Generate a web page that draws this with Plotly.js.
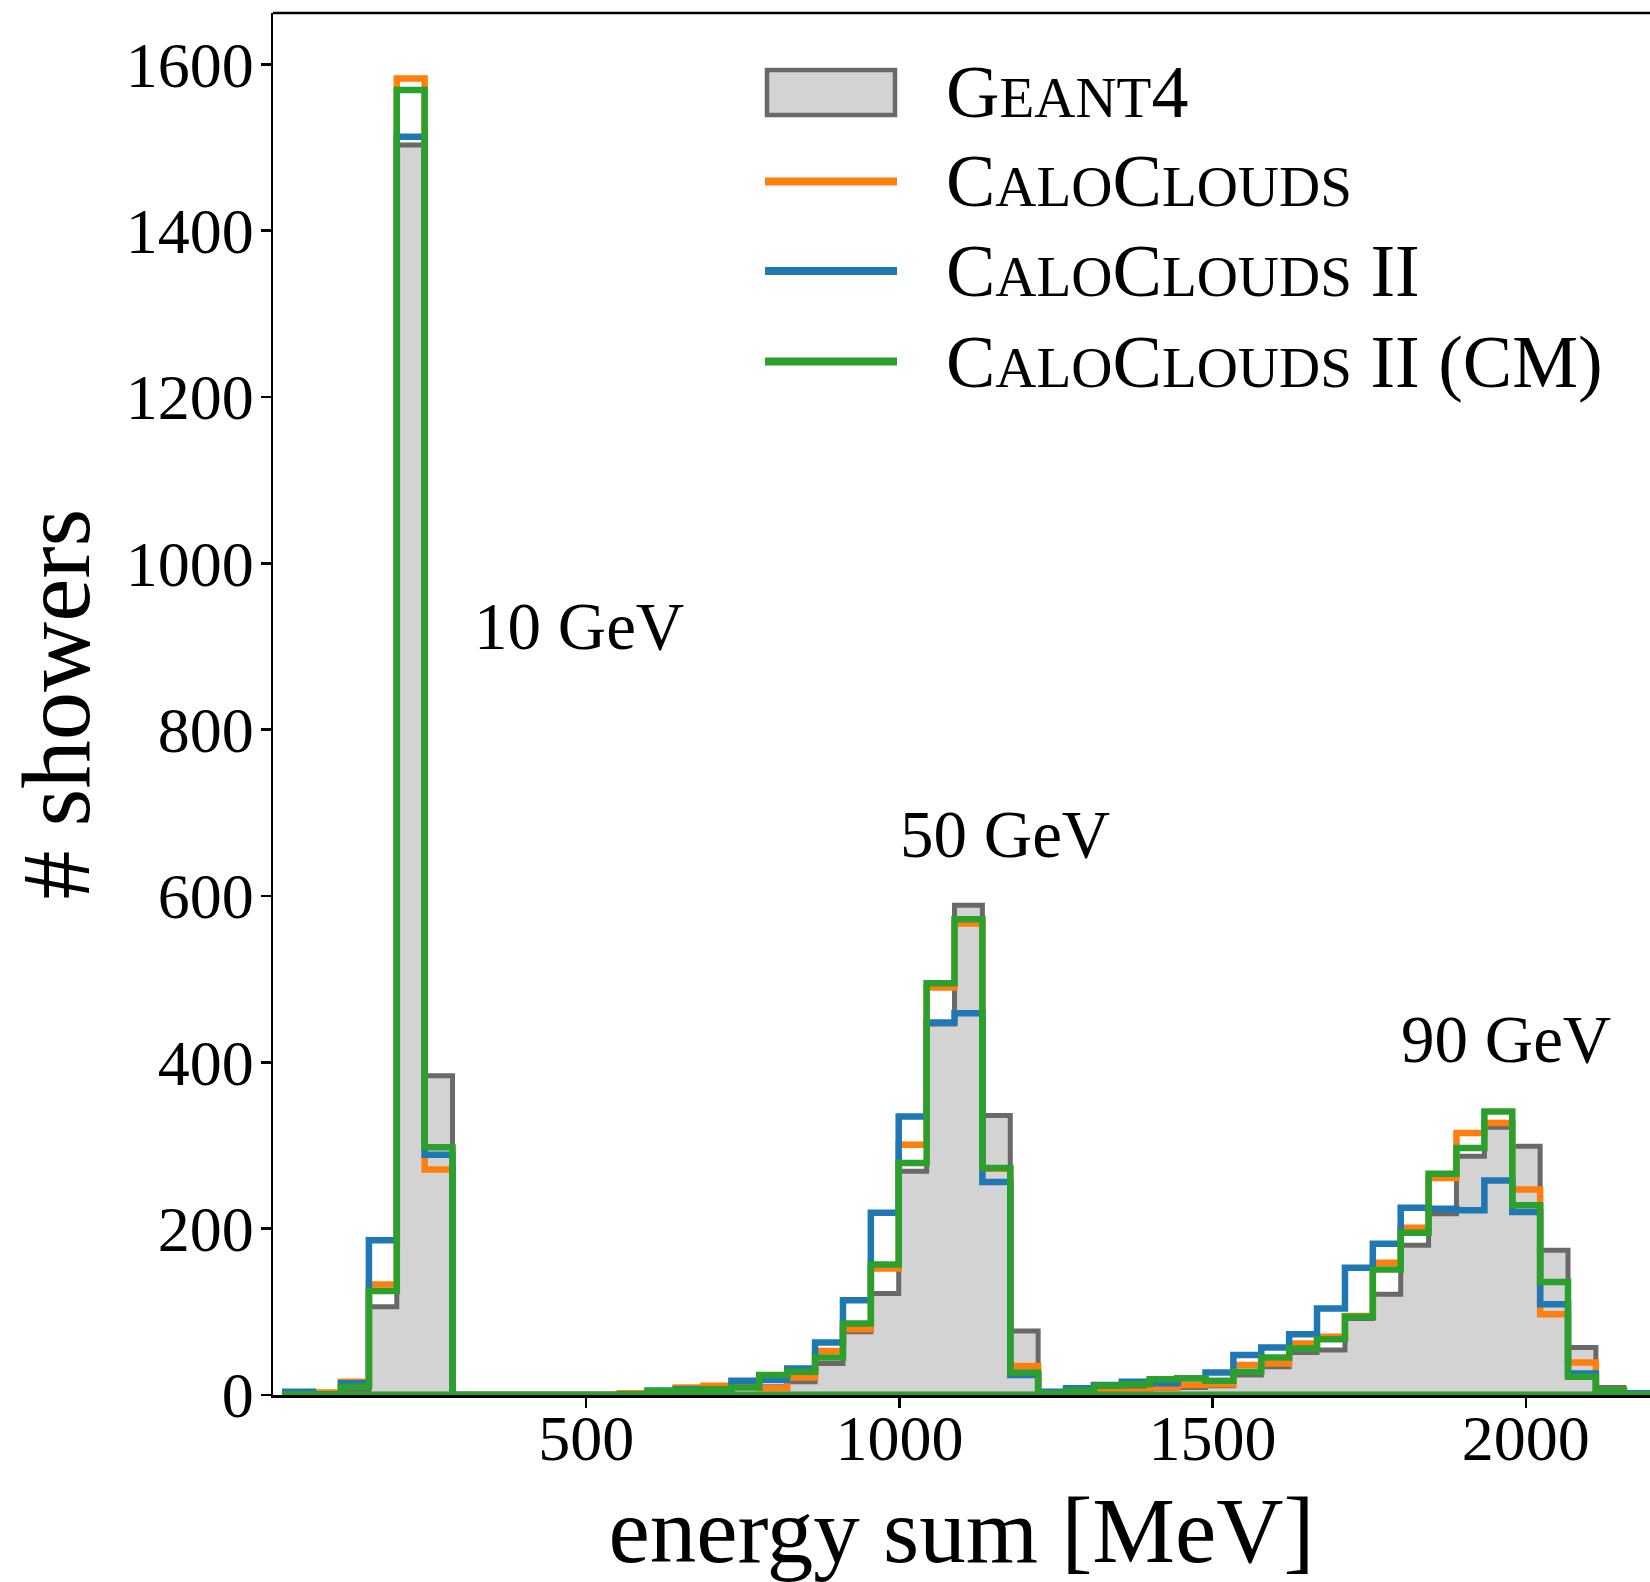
<!DOCTYPE html>
<html>
<head>
<meta charset="utf-8">
<script src="https://cdn.plot.ly/plotly-3.0.1.min.js"></script>
<style>
  html, body { margin: 0; padding: 0; background: #ffffff; }
  #chart { width: 1650px; height: 1582px; }
</style>
</head>
<body>
<div id="chart"></div>
<script>
// ---------------- data ----------------
// histogram bin edges [MeV]
const binEdges = [19.5, 64.0, 108.5, 153.1, 197.6, 242.1, 286.6, 331.1, 375.7, 420.2,
  464.7, 509.2, 553.7, 598.3, 642.8, 687.3, 731.8, 776.3, 820.9, 865.4,
  909.9, 954.4, 998.9, 1043.5, 1088.0, 1132.5, 1177.0, 1221.5, 1266.1, 1310.6,
  1355.1, 1399.6, 1444.1, 1488.7, 1533.2, 1577.7, 1622.2, 1666.7, 1711.3, 1755.8,
  1800.3, 1844.8, 1889.3, 1933.9, 1978.4, 2022.9, 2067.4, 2111.9, 2156.5, 2201.0];

// counts per bin (# showers)
const geant4Counts = [1, 1, 6, 106, 1503, 384, 0, 0, 0, 0,
  0, 0, 1, 2, 3, 4, 12, 10, 16, 38,
  76, 122, 269, 446, 589, 336, 77, 3, 7, 8,
  9, 8, 9, 11, 24, 34, 51, 54, 92, 121,
  180, 218, 287, 322, 299, 174, 57, 9, 1];

const caloCloudsCounts = [1, 3, 16, 133, 1583, 271, 0, 0, 0, 0,
  0, 0, 2, 3, 9, 11, 10, 8, 21, 53,
  79, 152, 301, 490, 567, 272, 35, 2, 3, 4,
  4, 9, 12, 13, 36, 38, 62, 70, 95, 159,
  201, 261, 315, 327, 247, 97, 39, 6, 1];

const caloClouds2Counts = [4, 1, 14, 186, 1513, 289, 0, 0, 0, 0,
  0, 0, 1, 5, 7, 6, 17, 18, 32, 63,
  114, 219, 335, 448, 459, 256, 24, 4, 8, 12,
  16, 14, 20, 27, 48, 57, 73, 104, 153, 182,
  225, 224, 222, 258, 220, 109, 26, 5, 2];

const caloClouds2CMCounts = [1, 1, 10, 125, 1569, 298, 0, 0, 0, 0,
  0, 0, 1, 5, 6, 7, 9, 24, 28, 45,
  86, 157, 279, 495, 572, 273, 27, 2, 5, 11,
  13, 19, 20, 17, 28, 45, 56, 67, 94, 151,
  195, 266, 297, 341, 228, 136, 22, 6, 1];

const seriesNames = ['Geant4', 'CaloClouds', 'CaloClouds II', 'CaloClouds II (CM)'];
const xTickVals = [500, 1000, 1500, 2000];
const yTickVals = [0, 200, 400, 600, 800, 1000, 1200, 1400, 1600];
const energyLabels = ['10 GeV', '50 GeV', '90 GeV'];

// ---------------- styling ----------------
const FONT = 'Liberation Serif, Times New Roman, serif';
const colors = {
  fill: '#d3d3d3', edge: '#696969',
  orange: '#ff7f0e', blue: '#1f77b4', green: '#2ca02c'
};

// figure geometry (pixels)
const FIG_W = 1650, FIG_H = 1582;
const M = { l: 273, r: 0, t: 13, b: 187 };
const PW = FIG_W - M.l - M.r, PH = FIG_H - M.t - M.b;
const xp = px => (px - M.l) / PW;
const yp = py => 1 - (py - M.t) / PH;

function stepXY(counts) {
  const x = [binEdges[0]].concat(binEdges);
  const y = [0].concat(counts).concat([0]);
  return { x, y };
}

const traces = [];
// Geant4 (stepfilled)
const g = stepXY(geant4Counts);
traces.push({
  type: 'scatter', mode: 'lines', name: seriesNames[0],
  x: g.x, y: g.y, fill: 'tozeroy', fillcolor: colors.fill,
  line: { color: colors.edge, width: 5, shape: 'hv' },
  showlegend: false, hoverinfo: 'skip'
});

const lineSeries = [
  [caloCloudsCounts, colors.orange, seriesNames[1]],
  [caloClouds2Counts, colors.blue, seriesNames[2]],
  [caloClouds2CMCounts, colors.green, seriesNames[3]]
];
lineSeries.forEach(([counts, col, name]) => {
  // empty-bin baseline of the per-energy histograms
  traces.push({
    type: 'scatter', mode: 'lines', x: [binEdges[0], binEdges[binEdges.length - 1]], y: [0, 0],
    line: { color: col, width: 6.5 }, showlegend: false, hoverinfo: 'skip'
  });
  const s = stepXY(counts);
  traces.push({
    type: 'scatter', mode: 'lines', name: name,
    x: s.x, y: s.y, line: { color: col, width: 6.5, shape: 'hv' },
    showlegend: false, hoverinfo: 'skip'
  });
});

// ---------------- legend (custom, matplotlib-like) ----------------
const sc = t => '<span style="font-size:57px">' + t + '</span>';
const legendTexts = [
  'G' + sc('EANT') + '4',
  'C' + sc('ALO') + 'C' + sc('LOUDS'),
  'C' + sc('ALO') + 'C' + sc('LOUDS') + ' II',
  'C' + sc('ALO') + 'C' + sc('LOUDS') + ' II (CM)'
];
const legendY = [92.5, 181.5, 271, 361.5];
const LEG_X0 = 765, LEG_X1 = 897, LEG_TX = 944;

const shapes = [];
shapes.push({
  type: 'rect', xref: 'paper', yref: 'paper',
  x0: xp(LEG_X0 + 2), x1: xp(LEG_X1 - 2), y0: yp(70), y1: yp(115),
  fillcolor: colors.fill, line: { color: colors.edge, width: 4.5 }
});
[colors.orange, colors.blue, colors.green].forEach((c, i) => {
  shapes.push({
    type: 'line', xref: 'paper', yref: 'paper',
    x0: xp(LEG_X0), x1: xp(LEG_X1), y0: yp(legendY[i + 1]), y1: yp(legendY[i + 1]),
    line: { color: c, width: 8 }
  });
});
// top spine
shapes.push({
  type: 'line', xref: 'paper', yref: 'paper', x0: 0, x1: 1, y0: 1, y1: 1,
  line: { color: '#000', width: 2.5 }
});

const annotations = legendTexts.map((t, i) => ({
  xref: 'paper', yref: 'paper', x: xp(LEG_TX), y: yp(legendY[i]),
  xanchor: 'left', yanchor: 'middle', text: t, showarrow: false,
  font: { family: FONT, size: 74, color: '#000' }
}));

// energy labels (placed in data coordinates)
const energyLabelPos = [[488, 925], [1168, 674], [1969, 428]];
energyLabels.forEach((t, i) => {
  annotations.push({
    xref: 'x', yref: 'y', x: energyLabelPos[i][0], y: energyLabelPos[i][1],
    xanchor: 'center', yanchor: 'middle', text: t, showarrow: false,
    font: { family: FONT, size: 67, color: '#000' }
  });
});

const layout = {
  width: FIG_W, height: FIG_H,
  margin: M,
  paper_bgcolor: '#ffffff', plot_bgcolor: '#ffffff',
  showlegend: false,
  font: { family: FONT, color: '#000' },
  xaxis: {
    range: [0, PW / 0.6264], tickvals: xTickVals, ticktext: xTickVals.map(String),
    ticks: 'outside', ticklen: 10, tickwidth: 2.5, tickcolor: '#000',
    showline: true, linewidth: 2.5, linecolor: '#000', mirror: false,
    showgrid: false, zeroline: false,
    tickfont: { family: FONT, size: 64, color: '#000' },
    ticklabelstandoff: -24,
    title: { text: 'energy sum [MeV]', font: { family: FONT, size: 93, color: '#000' }, standoff: 29 }
  },
  yaxis: {
    range: [0, PH / 0.8317], tickvals: yTickVals, ticktext: yTickVals.map(String),
    ticks: 'outside', ticklen: 10, tickwidth: 2.5, tickcolor: '#000',
    showline: true, linewidth: 2.5, linecolor: '#000', mirror: false,
    showgrid: false, zeroline: false,
    tickfont: { family: FONT, size: 64, color: '#000' },
    ticklabelstandoff: -6,
    title: { text: '# showers', font: { family: FONT, size: 97, color: '#000' }, standoff: 4 }
  },
  shapes: shapes,
  annotations: annotations
};

Plotly.newPlot('chart', traces, layout, { staticPlot: true, displayModeBar: false });
</script>
</body>
</html>
